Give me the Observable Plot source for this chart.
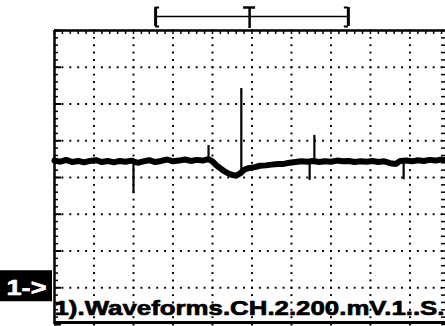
<!DOCTYPE html>
<html><head><meta charset="utf-8">
<script src="https://cdn.jsdelivr.net/npm/d3@7"></script>
<script src="https://cdn.jsdelivr.net/npm/@observablehq/plot@0.6"></script>
<style>html,body{margin:0;padding:0;background:#fff;overflow:hidden}</style>
</head><body><div id="chart"></div>
<script>
// time (s, 1 s/div) and voltage (mV, 200 mV/div, ground = 0)
const traceT = [0,0.15,0.3,0.45,0.6,0.75,0.9,1.05,1.2,1.35,1.5,1.65,1.8,1.95,2.1,2.25,2.4,2.55,2.7,2.85,3.0,3.15,3.3,3.45,3.6,3.75,3.9,
  4.0,4.1,4.2,4.3,4.4,4.5,4.6,4.7,4.8,4.9,5.0,5.1,5.2,
  5.35,5.5,5.65,5.8,5.95,6.1,6.25,6.4,6.55,6.7,6.85,7.0,7.15,7.3,7.45,7.6,7.75,7.9,8.05,8.2,8.35,8.5,8.65,
  8.75,8.9,9.05,9.2,9.35,9.5,9.65,9.8,9.9];
const traceV = [692,686,696,684,690,682,690,694,684,690,682,690,686,692,680,688,694,684,690,698,688,692,698,690,696,692,700,
  688,666,650,634,622,614,610,622,642,650,654,658,664,
  666,670,674,674,680,684,688,686,690,684,688,686,692,688,690,684,688,686,690,684,688,678,674,
  690,692,688,694,690,696,692,698,694];
const spikeT    = [2.0, 3.9, 4.73, 6.46, 6.58, 8.84];
const spikeFrom = [688, 700, 640, 688, 688, 690];
const spikeTo   = [513, 774, 1084, 584, 829, 588];
const gridT = [1,2,3,4,5,6,7,8,9];
const gridV = [0,200,400,600,800,1000,1200];
const groundV = 0;
const markerLabel = "1->";
const caption = "1).Waveforms.CH.2.200.mV.1..S.";
const memStart = 2.56, trigT = 4.94, memEnd = 7.44;

const W = 445, H = 326, mL = 54, mR = 0, mT = 30, mB = 2;
const xMin = 0, xMax = 9.9, yMin = -200, yMax = 1400;
const pxT = (xMax - xMin) / (W - mL - mR);
const pxV = (yMax - yMin) / (H - mT - mB);

const minorT = d3.range(0, xMax + 1e-9, 0.2);
const minorV = d3.range(yMin, yMax + 1e-9, 40);
const majorV = d3.range(yMin, yMax + 1e-9, 200);
const dotsV = gridT.flatMap(t => minorV.map(v => ({t, v})));
const dotsH = gridV.flatMap(v => minorT.map(t => ({t, v})));
const trace = traceT.map((t, i) => ({t, v: traceV[i]}));
const spikes = spikeT.map((t, i) => ({t, a: spikeFrom[i], b: spikeTo[i]}));

const bY = yMax + 14 * pxV, bTop = yMax + 23 * pxV, bBot = yMax + 4 * pxV;

const plot = Plot.plot({
  width: W, height: H,
  marginLeft: mL, marginRight: mR, marginTop: mT, marginBottom: mB,
  x: {domain: [xMin, xMax], axis: null},
  y: {domain: [yMin, yMax], axis: null},
  style: {background: "#fff", overflow: "visible"},
  marks: [
    Plot.dot(dotsV, {x: "t", y: "v", symbol: "square", r: 1.1, fill: "#000", stroke: null}),
    Plot.dot(dotsH, {x: "t", y: "v", symbol: "square", r: 1.1, fill: "#000", stroke: null}),
    // frame
    Plot.ruleX([xMin], {y1: yMin, y2: yMax, stroke: "#000", strokeWidth: 2.5}),
    Plot.ruleY([yMax], {x1: xMin, x2: xMax, stroke: "#000", strokeWidth: 2.5}),
    Plot.ruleY([yMin + 2 * pxV], {x1: xMin, x2: xMax, stroke: "#000", strokeWidth: 3}),
    // ticks
    Plot.ruleX(minorT, {x: d => d, y1: yMax, y2: yMax - 4 * pxV, stroke: "#000", strokeWidth: 1.5}),
    Plot.ruleY(minorV, {y: d => d, x1: xMin, x2: xMin + 4 * pxT, stroke: "#000", strokeWidth: 1.5}),
    Plot.ruleY(majorV, {y: d => d, x1: xMin, x2: xMin + 7 * pxT, stroke: "#000", strokeWidth: 2}),
    Plot.ruleY(minorV, {y: d => d, x1: xMax - 4 * pxT, x2: xMax, stroke: "#000", strokeWidth: 1.5}),
    // trace
    Plot.line(trace, {x: "t", y: "v", stroke: "#000", strokeWidth: 6, strokeLinejoin: "miter"}),
    Plot.ruleX(spikes, {x: "t", y1: "a", y2: "b", stroke: "#000", strokeWidth: 2.2}),
    // memory bracket & trigger
    Plot.ruleY([bY], {x1: memStart, x2: memEnd, stroke: "#000", strokeWidth: 1.5}),
    Plot.ruleX([memStart, memEnd], {x: d => d, y1: bBot, y2: bTop, stroke: "#000", strokeWidth: 3}),
    Plot.ruleY([bTop, bBot], {y: d => d, x1: memStart, x2: memStart + 4 * pxT, stroke: "#000", strokeWidth: 2}),
    Plot.ruleY([bTop, bBot], {y: d => d, x1: memEnd - 4 * pxT, x2: memEnd, stroke: "#000", strokeWidth: 2}),
    Plot.ruleX([trigT], {x: d => d, y1: bBot - 2 * pxV, y2: bTop, stroke: "#000", strokeWidth: 2.5}),
    Plot.ruleY([bTop], {y: d => d, x1: trigT - 6 * pxT, x2: trigT + 6 * pxT, stroke: "#000", strokeWidth: 2.5}),
    // ground marker
    Plot.rect([groundV], {x1: xMin - 54 * pxT, x2: xMin - 2 * pxT, y1: d => d - 14 * pxV, y2: d => d + 17 * pxV, fill: "#000"}),
    Plot.text([markerLabel], {x: xMin - 48 * pxT, y: groundV, text: d => d, fill: "#fff", stroke: "#fff", strokeWidth: 0.6,
      textAnchor: "start", lineAnchor: "middle",
      fontSize: 22, fontWeight: "bold", fontFamily: "Liberation Sans, Arial, sans-serif"}),
    // caption
    Plot.text([caption], {x: xMin, y: yMin + 10 * pxV, text: d => d, fill: "#000", stroke: "#000", strokeWidth: 0.7,
      textAnchor: "start", lineAnchor: "bottom",
      fontSize: 21, fontWeight: "bold", fontFamily: "Liberation Sans, Arial, sans-serif"})
  ]
});
d3.select(plot).selectAll("text").each(function() {
  if (this.textContent === caption) {
    this.setAttribute("textLength", 390);
    this.setAttribute("lengthAdjust", "spacingAndGlyphs");
  } else if (this.textContent === markerLabel) {
    this.setAttribute("textLength", 40);
    this.setAttribute("lengthAdjust", "spacingAndGlyphs");
  }
});
document.getElementById("chart").appendChild(plot);
</script>
</body></html>
